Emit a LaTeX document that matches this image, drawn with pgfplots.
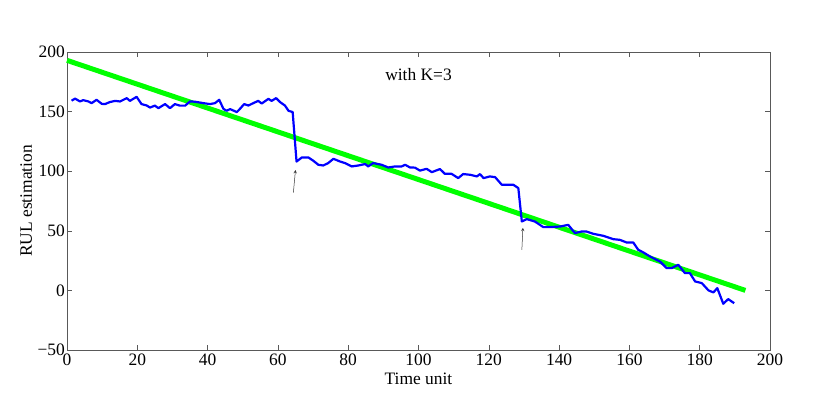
\documentclass[border=0pt]{standalone}
\usepackage{fontspec}
\setmainfont{Liberation Serif}
\usepackage{pgfplots}
\pgfplotsset{compat=1.18}
\definecolor{mblue}{RGB}{0,0,255}
\definecolor{mgreen}{RGB}{0,255,0}
\begin{document}
\begin{tikzpicture}[x=1bp,y=1bp,font=\fontsize{17.5}{20}\selectfont]
\useasboundingbox (0,0) rectangle (830,408);
\begin{axis}[
  at={(67bp,58bp)}, anchor=south west,
  scale only axis, width=703bp, height=298bp,
  xmin=0, xmax=200, ymin=-50, ymax=200,
  xtick={0,20,...,200},
  ytick={-50,0,50,100,150,200},
  yticklabels={−50,0,50,100,150,200},
  /pgf/number format/assume math mode=true,
  tick align=inside, tick pos=both,
  major tick length=5bp,
  axis line style={gray!70!black},
  tick style={gray!70!black, line width=0.6bp},
  ticklabel style={font=\fontsize{17.5}{20}\selectfont},
  xticklabel style={inner sep=1bp, yshift=-3bp},
  yticklabel style={inner sep=2bp},
  xlabel={Time unit}, ylabel={RUL estimation},
  xlabel style={inner sep=0bp, yshift=-6bp},
  ylabel style={},
  label style={font=\fontsize{17.5}{20}\selectfont},
  clip=false,
]
\addplot[mgreen, line width=5bp] coordinates {(0,193) (193,0)};
\addplot[mblue, line width=2.2bp, line join=round] coordinates {
(1.3,159.2) (2.3,160.9) (3.7,158.5) (4.6,159.6) (6.1,158.5) (7.0,157.1)
(8.4,159.9) (9.9,156.5) (10.8,156.3) (12.2,158) (13.7,159) (15.1,158.5)
(17,161.3) (17.9,159) (19.8,162.4) (21.2,156.3) (22.7,155.1) (23.6,153.4)
(25,155) (26,152.9) (27.9,156.3) (29.3,152.9) (30.7,156.3) (32.1,155)
(33.6,155) (35,158.5) (36.4,158.3) (38.8,157.1) (40.7,156.3) (42.1,157.1)
(43.3,159.9) (44.5,152.3) (45.4,150.7) (46.4,152.1) (48.3,149.6) (49.2,152.3)
(50.4,156.3) (51.6,155.1) (53,157.1) (54.4,159) (55.4,156.8) (57.3,160.7)
(58.2,159) (59.5,161.3) (60.6,158) (62,155.1) (63,150.7) (64.2,149.6)
(65.3,108.1) (66.8,111.5) (68.7,111.5) (70.1,108.7) (71.5,105.4) (72.9,104.8)
(74.3,106.8) (75.8,110.4) (77.7,108.1) (79.1,106.8) (81,104) (82.9,104.8)
(84.8,106) (85.7,104) (87.1,106.8) (89.5,105.4) (91.4,103.1) (93.3,104)
(95.2,104) (96.2,105.4) (97.6,103.1) (99,103) (100.4,100.5) (102.3,102)
(103.8,99.2) (106.1,101.8) (107.5,97.8) (109.4,97.8) (111.3,94.2) (112.7,97.6)
(114.7,97) (116.6,95.6) (117.5,97.6) (118.5,94.2) (120.3,95.6) (121.8,95)
(123.7,88.6) (126,88.6) (127,88.6) (128.4,85.8) (129.4,57.8) (130.8,59.8)
(133.1,57.8) (135.5,53.1) (137.4,53.1) (140.3,53.6) (142.6,55) (144.5,48.1)
(146.4,49.4) (147.8,49.4) (149.7,47.5) (152.6,45.8) (155.4,43) (157.3,42.4)
(159.2,40.2) (161.1,40.2) (162.5,34.1) (164,31.8) (165.9,28.4) (168.7,24.2)
(170.6,18.7) (172,18.7) (173.9,21.5) (175.8,14.5) (177.2,14.5) (178.7,7.5)
(180.6,6.1) (182.5,0) (183.9,-1.7) (185,1.9) (186.7,-11.2) (188.1,-7.3)
(189.8,-10.7)
};
\draw[-stealth, black!80, line width=0.5bp] (axis cs:64.4,82) -- (axis cs:65,101);
\draw[-stealth, black!80, line width=0.5bp] (axis cs:129.4,34) -- (axis cs:129.7,52.5);
\node at (axis cs:100,181) {with K=3};
\end{axis}
\end{tikzpicture}
\end{document}
